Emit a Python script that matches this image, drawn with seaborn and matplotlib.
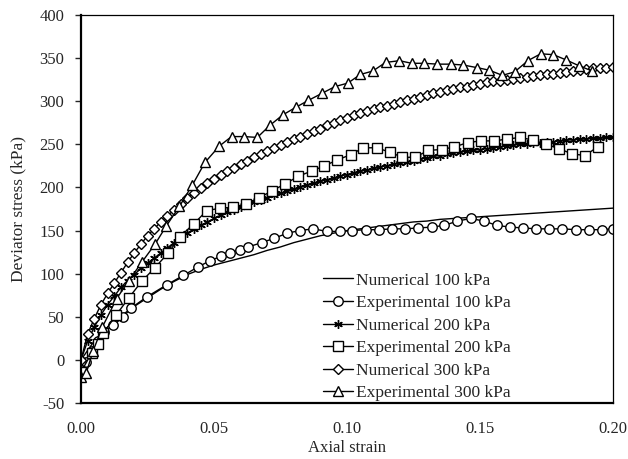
import numpy as np
import pandas as pd
import matplotlib
matplotlib.use("Agg")
import matplotlib.pyplot as plt
import seaborn as sns

# ---------------- data ----------------
strain_num = [i * 0.0025 for i in range(81)]
strain_num1 = [i * 0.005 for i in range(41)]

num100 = [0, 22, 38, 51, 62, 72, 82, 91, 99, 105, 110, 114, 118, 122, 127, 131,
          136, 140, 144, 147, 150, 152, 154, 156, 158, 160, 161, 163, 164, 165,
          166, 167, 168, 169, 170, 171, 172, 173, 174, 175, 176]

num200 = [0, 22, 38, 52, 64, 74, 84, 92, 99, 106, 112, 118, 124, 130, 136, 142,
          147, 152, 156, 160, 164, 168, 171, 174, 177, 180, 183, 186, 188, 191,
          193, 196, 198, 201, 203, 205, 207, 209, 211, 213, 215, 217, 219, 220,
          222, 224, 225, 227, 228, 230, 231, 233, 234, 236, 237, 239, 240, 241,
          242, 243, 244, 245, 246, 247, 248, 249, 250, 250, 251, 252, 253, 253,
          254, 255, 255, 256, 256, 257, 257, 258, 258]

num300 = [0, 30, 48, 64, 77, 89, 101, 113, 124, 134, 144, 152, 160, 167, 174,
          181, 188, 194, 199, 205, 210, 215, 219, 223, 227, 231, 235, 239, 242,
          246, 249, 253, 256, 259, 262, 265, 268, 272, 275, 278, 281, 284, 286,
          289, 291, 293, 295, 297, 299, 301, 303, 305, 307, 309, 311, 313, 314,
          316, 317, 319, 320, 322, 323, 324, 325, 326, 327, 328, 329, 330, 331,
          332, 333, 334, 335, 336, 337, 338, 339, 339, 340]

exp100_x = [0.000, 0.002, 0.004, 0.0065, 0.0085, 0.0121, 0.0159, 0.0188, 0.0247,
            0.0322, 0.0385, 0.0441, 0.0485, 0.0525, 0.056, 0.0598, 0.0629, 0.0679,
            0.0726, 0.0776, 0.0823, 0.0873, 0.0924, 0.0974, 0.102, 0.107, 0.112,
            0.117, 0.1218, 0.1268, 0.1318, 0.1366, 0.1415, 0.1465, 0.1515, 0.1563,
            0.1613, 0.1663, 0.171, 0.176, 0.181, 0.186, 0.191, 0.1957, 0.2]
exp100_y = [-12, -3, 10, 22, 32, 40, 50, 60, 73, 87, 98, 108, 115, 120, 124, 128,
            131, 136, 141, 147, 150, 152, 149, 149, 150, 151, 151, 152, 152, 153,
            154, 156, 161, 164, 161, 156, 154, 153, 152, 152, 152, 151, 151, 151, 152]

exp200_x = [0.000, 0.004, 0.0065, 0.0084, 0.0132, 0.018, 0.0228, 0.0278, 0.0328,
            0.0372, 0.0425, 0.0472, 0.0523, 0.0572, 0.062, 0.067, 0.0717, 0.0767,
            0.0817, 0.0867, 0.0915, 0.0964, 0.1014, 0.1061, 0.1112, 0.116, 0.1208,
            0.1256, 0.1306, 0.1356, 0.1403, 0.1454, 0.1503, 0.1553, 0.160, 0.165,
            0.1698, 0.1747, 0.1797, 0.1845, 0.1895, 0.1942]
exp200_y = [-14, 8, 19, 31, 52, 72, 91, 107, 124, 143, 158, 173, 176, 177, 181,
            188, 196, 204, 213, 219, 225, 232, 238, 246, 246, 241, 235, 235, 243,
            244, 247, 252, 254, 254, 256, 258, 255, 250, 245, 239, 237, 247]

exp300_x = [0.000, 0.002, 0.0045, 0.008, 0.0134, 0.018, 0.0228, 0.0278, 0.032,
            0.037, 0.0419, 0.0466, 0.052, 0.0566, 0.0614, 0.0663, 0.071, 0.0758,
            0.0808, 0.0855, 0.0905, 0.0955, 0.1003, 0.105, 0.1097, 0.1145, 0.1197,
            0.1243, 0.129, 0.134, 0.139, 0.1437, 0.1488, 0.1535, 0.1584, 0.163,
            0.168, 0.1728, 0.1776, 0.1823, 0.1873, 0.1922]
exp300_y = [-20, -15, 10, 38, 71, 92, 113, 134, 155, 178, 203, 229, 248, 259, 259,
            258, 272, 284, 293, 301, 309, 317, 321, 331, 335, 345, 347, 344, 344,
            343, 343, 342, 339, 336, 330, 334, 347, 355, 354, 348, 341, 335]

x_ticks = [0.00, 0.05, 0.10, 0.15, 0.20]
y_ticks = [-50, 0, 50, 100, 150, 200, 250, 300, 350, 400]

# ---------------- style ----------------
sns.set_style("white")
plt.rcParams['font.family'] = ['Liberation Serif', 'DejaVu Serif']
plt.rcParams['font.size'] = 12

fig, ax = plt.subplots(figsize=(6.28, 4.59), dpi=100)
fig.subplots_adjust(left=81/628, right=613/628, top=1-15/459, bottom=1-403/459)

common = dict(ax=ax, color='black', linewidth=1.0, sort=False, estimator=None)

sns.lineplot(x=strain_num1, y=num100, label='Numerical 100 kPa', **common)
sns.lineplot(x=exp100_x, y=exp100_y, label='Experimental 100 kPa', marker='o',
             markersize=6.8, markerfacecolor='white', markeredgecolor='black',
             markeredgewidth=1.0, **common)
sns.lineplot(x=strain_num, y=num200, label='Numerical 200 kPa', marker=(6, 2, 0),
             markersize=6.2, markeredgecolor='black', markeredgewidth=1.0, **common)
sns.lineplot(x=exp200_x, y=exp200_y, label='Experimental 200 kPa', marker='s',
             markersize=6.8, markerfacecolor='white', markeredgecolor='black',
             markeredgewidth=1.0, **common)
sns.lineplot(x=strain_num, y=num300, label='Numerical 300 kPa', marker='D',
             markersize=4.8, markerfacecolor='white', markeredgecolor='black',
             markeredgewidth=1.0, **common)
sns.lineplot(x=exp300_x, y=exp300_y, label='Experimental 300 kPa', marker='^',
             markersize=7.2, markerfacecolor='white', markeredgecolor='black',
             markeredgewidth=1.0, **common)

ax.set_xlim(0, 0.20)
ax.set_ylim(-50, 400)
ax.set_xticks(x_ticks)
ax.set_xticklabels([f"{v:.2f}" for v in x_ticks])
ax.set_yticks(y_ticks)
ax.set_yticklabels([str(v) for v in y_ticks])
ax.tick_params(axis='y', direction='out', length=4.5, width=1, left=True, pad=7.5,
               labelsize=12)
ax.tick_params(axis='x', length=0, pad=13, labelsize=12)
ax.set_xlabel('Axial strain', fontsize=12, labelpad=2)
ax.set_ylabel('Deviator stress (kPa)', fontsize=12.5, labelpad=9)

for side in ['left', 'bottom']:
    ax.spines[side].set_linewidth(1.6)
for side in ['top', 'right']:
    ax.spines[side].set_linewidth(0.9)
for s in ax.spines.values():
    s.set_color('black')

leg = ax.legend(loc='lower left', bbox_to_anchor=(0.455, 0.004), frameon=False,
                borderpad=0, borderaxespad=0, handlelength=1.7, handletextpad=0.2,
                labelspacing=0.37, fontsize=12.5)

fig.savefig('out.png', dpi=100)
